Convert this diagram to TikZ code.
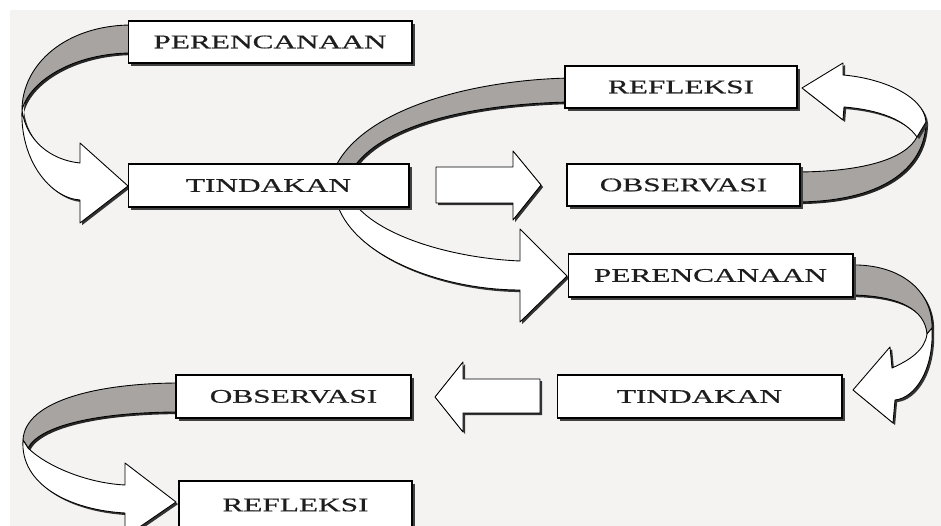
\documentclass[tikz,border=0pt]{standalone}
\usepackage{fontspec}
\setmainfont{Liberation Serif}[FakeStretch=1.62, FakeBold=0.5]
\usetikzlibrary{shadows}
\definecolor{paper}{RGB}{244,243,242}
\definecolor{band}{RGB}{168,164,161}
\definecolor{ink}{RGB}{30,30,30}
\tikzset{
  stage/.style={draw, fill=white, line width=0.6pt, inner sep=0pt, text=ink,
    font=\fontsize{11}{13}\selectfont,
    drop shadow={shadow xshift=1.6pt, shadow yshift=-1.6pt, fill=black!75, opacity=1}},
  back/.style={draw, fill=band, line width=0.5pt, line join=round,
    drop shadow={shadow xshift=1.2pt, shadow yshift=-1.2pt, fill=black!85, opacity=1}},
  front/.style={draw, fill=white, line width=0.5pt, line join=round,
    drop shadow={shadow xshift=1.2pt, shadow yshift=-1.2pt, fill=black!80, opacity=1}}
}
\begin{document}
\begin{tikzpicture}[x=0.02cm, y=-0.02cm]
	\useasboundingbox (0,0) rectangle (941,526);
	\fill[white] (0,0) rectangle (941,526);
	\fill[paper] (10,10) rectangle (941,526);
	% perencanaan -> tindakan (left turn)
	\path[back] (132,25) .. controls (65,25) and (22,65) .. (22,110) .. controls (30,80) and (75,53) .. (132,53) -- cycle;
	\path[front] (22,110) .. controls (20,160) and (50,198) .. (80,200) -- (80,223) -- (128,186) -- (80,143) -- (80,163) .. controls (50,160) and (26,140) .. (22,110) -- cycle;
	% refleksi -> perencanaan, behind tindakan
	\path[back] (570,78) .. controls (470,80) and (360,110) .. (334,170) -- (352,170) .. controls (380,125) and (470,104) .. (570,102) -- cycle;
	\path[front] (336,200) .. controls (350,255) and (440,290) .. (520,290) -- (520,322) -- (567,276) -- (520,229) -- (520,261) .. controls (450,258) and (375,235) .. (352,200) -- cycle;
	% observasi -> refleksi (right turn)
	\path[back] (795,172) .. controls (860,172) and (905,160) .. (917,137) -- (926,122) .. controls (925,170) and (880,202) .. (795,202) -- cycle;
	\path[front] (926,122) .. controls (924,95) and (880,78) .. (843,75) -- (843,63) -- (802,88) -- (843,120) -- (844,107) .. controls (880,110) and (905,120) .. (917,137) -- cycle;
	% perencanaan -> tindakan (right turn)
	\path[back] (848,265) .. controls (905,263) and (933,295) .. (932,328) -- (927,334) .. controls (925,310) and (900,295) .. (848,295) -- cycle;
	\path[front] (932,328) .. controls (934,370) and (915,398) .. (895,400) -- (893,423) -- (853,390) -- (890,347) -- (892,368) .. controls (910,360) and (925,350) .. (927,334) -- cycle;
	% observasi -> refleksi (left turn)
	\path[back] (180,383) .. controls (100,383) and (25,400) .. (23,440) -- (28,448) .. controls (40,425) and (100,412) .. (180,412) -- cycle;
	\path[front] (23,440) .. controls (20,485) and (70,510) .. (125,513) -- (125,537) -- (176,502) -- (125,463) -- (125,485) .. controls (85,483) and (45,465) .. (28,448) -- cycle;
	% straight block arrows
	\path[front] (436,167) -- (513,167) -- (513,151) -- (541,185) -- (513,220) -- (513,203) -- (436,203) -- cycle;
	\path[front] (540,379) -- (463,379) -- (463,362) -- (435,397) -- (463,432) -- (463,413) -- (540,413) -- cycle;
	% stage boxes
	\foreach \nm/\cx/\cy/\w/\h/\txt in {p1/270/42/5.68/0.84/PERENCANAAN, t1/268.5/185.5/5.62/0.86/TINDAKAN,
		r1/681/87/4.64/0.84/REFLEKSI, o1/683.5/185/4.66/0.84/OBSERVASI,
		p2/710.5/275.5/5.70/0.86/PERENCANAAN, t2/699.5/396.5/5.70/0.86/TINDAKAN,
		o2/293.5/396.5/4.70/0.86/OBSERVASI, r2/295.5/505/4.66/0.96/REFLEKSI}
	\node[stage, minimum width=\w cm, minimum height=\h cm] (\nm) at (\cx,\cy) {\txt};
\end{tikzpicture}
\end{document}
